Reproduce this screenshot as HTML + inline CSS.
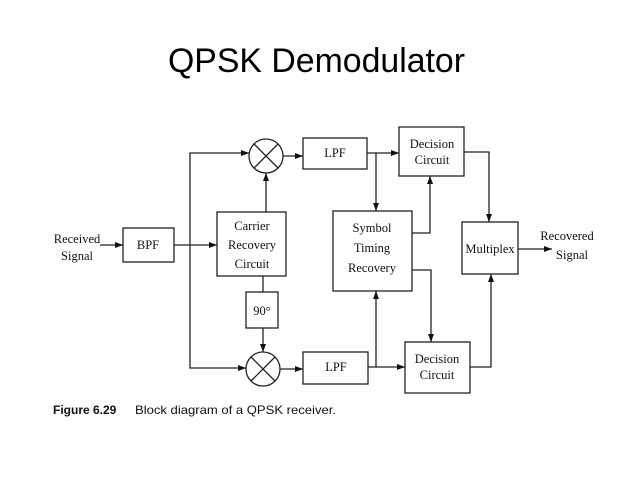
<!DOCTYPE html>
<html><head><style>body{margin:0;background:#fff}svg{display:block}</style></head><body>
<svg width="638" height="479" viewBox="0 0 638 479" xmlns="http://www.w3.org/2000/svg">
<defs><marker id="a" markerWidth="8" markerHeight="6" refX="8" refY="3" orient="auto" markerUnits="userSpaceOnUse"><path d="M0,0 L8,3 L0,6z" fill="#111"/></marker></defs>
<text x="168" y="72" font-family="Liberation Sans, sans-serif" font-size="34" textLength="297" lengthAdjust="spacingAndGlyphs" fill="#000">QPSK Demodulator</text>
<g stroke="#222" stroke-width="1.3" fill="none">
<rect x="123" y="228" width="51" height="34"/>
<rect x="217" y="212" width="69" height="64"/>
<rect x="246" y="292" width="32" height="36"/>
<path d="M263,276 V292"/>
<circle cx="266" cy="156" r="17"/>
<path d="M254,144 L278,168 M278,144 L254,168"/>
<circle cx="263" cy="369" r="17"/>
<path d="M251,357 L275,381 M275,357 L251,381"/>
<rect x="303" y="138" width="64" height="31"/>
<rect x="303" y="352" width="65" height="32"/>
<rect x="399" y="127" width="65" height="49"/>
<rect x="333" y="211" width="79" height="80"/>
<rect x="462" y="222" width="56" height="52"/>
<rect x="405" y="342" width="65" height="51"/>
<g marker-end="url(#a)">
<path d="M100,245 H123"/>
<path d="M174,245 H217"/>
<path d="M190,245 V153 H249"/>
<path d="M190,245 V368 H246"/>
<path d="M266,212 V173"/>
<path d="M263,328 V352"/>
<path d="M283,156 H303"/>
<path d="M280,369 H303"/>
<path d="M367,153 H399"/>
<path d="M376,153 V211"/>
<path d="M368,367 H405"/>
<path d="M376,367 V291"/>
<path d="M412,233 H430 V176"/>
<path d="M412,270 H431 V342"/>
<path d="M464,152 H489 V222"/>
<path d="M470,367 H491 V274"/>
<path d="M518,249 H552"/>
</g>
</g>
<g font-family="Liberation Serif, serif" font-size="12.5" fill="#111" text-anchor="middle">
<text x="77" y="243">Received</text><text x="77" y="260">Signal</text>
<text x="148" y="249">BPF</text>
<text x="252" y="230">Carrier</text><text x="252" y="249">Recovery</text><text x="252" y="268">Circuit</text>
<text x="262" y="315">90°</text>
<text x="335" y="157">LPF</text>
<text x="336" y="371">LPF</text>
<text x="432" y="148">Decision</text><text x="432" y="164">Circuit</text>
<text x="372" y="232">Symbol</text><text x="372" y="252">Timing</text><text x="372" y="272">Recovery</text>
<text x="490" y="253">Multiplex</text>
<text x="437" y="363">Decision</text><text x="437" y="379">Circuit</text>
<text x="567" y="240">Recovered</text><text x="572" y="259">Signal</text>
</g>
<text x="53" y="414" font-family="Liberation Sans, sans-serif" font-size="12" font-weight="bold" fill="#111">Figure 6.29</text>
<text x="135" y="414" font-family="Liberation Sans, sans-serif" font-size="12" fill="#111" textLength="201" lengthAdjust="spacingAndGlyphs">Block diagram of a QPSK receiver.</text>
</svg>
</body></html>
